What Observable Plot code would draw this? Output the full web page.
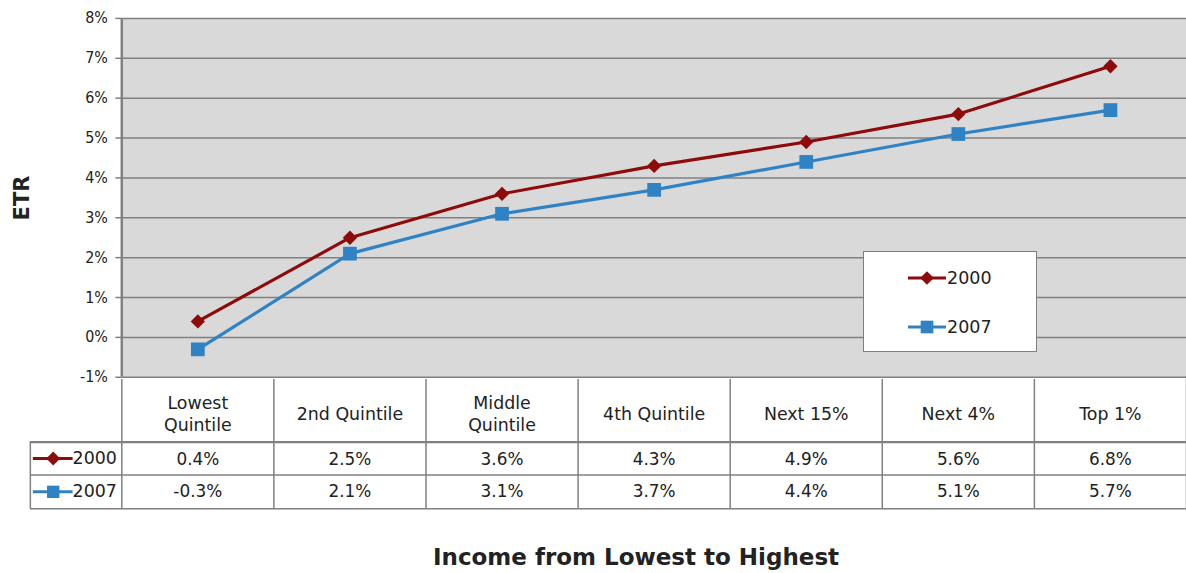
<!DOCTYPE html>
<html>
<head>
<meta charset="utf-8">
<script src="https://cdn.jsdelivr.net/npm/d3@7"></script>
<script src="https://cdn.jsdelivr.net/npm/@observablehq/plot@0.6"></script>
<style>
  body { margin: 0; background: #fff; overflow: hidden; }
  #wrap { position: relative; width: 1186px; height: 573px; overflow: hidden;
          font-family: "DejaVu Sans", sans-serif; color: #222; }
  #wrap svg { display: block; }
  #chart { position: absolute; left: 0; top: 0; }
  #table { position: absolute; left: 0; top: 379px; }
  #ylabel { position: absolute; left: 22px; top: 198px; transform: translate(-50%, -50%) rotate(-90deg);
            font-weight: bold; font-size: 21px; white-space: nowrap; }
  #xlabel { position: absolute; left: 433px; top: 544px;
            font-weight: bold; font-size: 23px; white-space: nowrap; }
  #legend { position: absolute; left: 863px; top: 251px; width: 174px; height: 101px;
            background: #fff; border: 1.5px solid #808080; box-sizing: border-box; }
  .lg { position: absolute; left: 44px; display: flex; align-items: center; font-size: 17.5px; }
  .lg svg { margin-right: 1px; }
</style>
</head>
<body>
<div id="wrap">
  <div id="chart"></div>
  <div id="table"></div>
  <div id="ylabel">ETR</div>
  <div id="xlabel">Income from Lowest to Highest</div>
  <div id="legend"></div>
</div>
<script>
// ---- data ----
const categories = ["Lowest Quintile", "2nd Quintile", "Middle Quintile", "4th Quintile", "Next 15%", "Next 4%", "Top 1%"];
const headerLabels = ["Lowest\nQuintile", "2nd Quintile", "Middle\nQuintile", "4th Quintile", "Next 15%", "Next 4%", "Top 1%"];
const years = ["2000", "2007"];
const etr2000 = [0.4, 2.5, 3.6, 4.3, 4.9, 5.6, 6.8];
const etr2007 = [-0.3, 2.1, 3.1, 3.7, 4.4, 5.1, 5.7];
const yTicks = [-1, 0, 1, 2, 3, 4, 5, 6, 7, 8];

// ---- styling / layout ----
const RED = "#8e0b0b";
const BLUE = "#2f83c5";
const GRID = "#808080";
const FONT = "'DejaVu Sans', sans-serif";
const TICKFONT = "'DejaVu Sans Condensed', 'DejaVu Sans', sans-serif";
const W = 1193, LEFT = 122;
const rowEdges = [0, 63, 96, 130];   // table row boundaries (layout, px below the plot)
const TH = 132;

const rows = [];
categories.forEach((c, i) => {
  rows.push({i, cat: c, year: "2000", v: etr2000[i]});
  rows.push({i, cat: c, year: "2007", v: etr2007[i]});
});
const xDomain = [-0.5, categories.length - 0.5];
const bounds = d3.range(categories.length + 1).map(k => k - 0.5);

const chart = Plot.plot({
  width: W, height: 380,
  marginTop: 18, marginBottom: 1, marginLeft: LEFT, marginRight: 0,
  style: {fontFamily: TICKFONT, background: "transparent", overflow: "visible", color: "#222"},
  x: {type: "linear", domain: xDomain, axis: null},
  y: {domain: [-1, 8], axis: null},
  color: {domain: years, range: [RED, BLUE]},
  marks: [
    Plot.frame({fill: "#d9d9d9", stroke: null}),
    Plot.ruleY(yTicks, {stroke: GRID, strokeWidth: 1.5}),
    Plot.ruleX([-0.5], {stroke: GRID, strokeWidth: 2.5}),
    Plot.axisY({ticks: yTicks, tickSize: 6, tickPadding: 8, tickFormat: d => d + "%",
                fontSize: 16, stroke: GRID, strokeWidth: 1.5, label: null}),
    Plot.line(rows, {x: "i", y: "v", z: "year", stroke: "year", strokeWidth: 3.2}),
    Plot.dot(rows.filter(d => d.year === "2000"), {x: "i", y: "v", symbol: "diamond2", fill: RED, stroke: null, r: 6.5}),
    Plot.dot(rows.filter(d => d.year === "2007"), {x: "i", y: "v", symbol: "square", fill: BLUE, stroke: null, r: 7.8})
  ]
});
document.getElementById("chart").append(chart);

// ---- data table below the chart ----
const mid = k => (rowEdges[k] + rowEdges[k + 1]) / 2;
const table = Plot.plot({
  width: W, height: TH,
  marginTop: 0, marginBottom: 0, marginLeft: LEFT, marginRight: 0,
  style: {fontFamily: FONT, background: "transparent", overflow: "visible", color: "#222"},
  x: {type: "linear", domain: xDomain, axis: null},
  y: {type: "linear", domain: [0, TH], range: [0, TH], axis: null},
  marks: [
    Plot.ruleX(bounds, {y1: rowEdges[0], y2: rowEdges[3], stroke: GRID, strokeWidth: 1.5}),
    Plot.ruleX([-0.5], {y1: rowEdges[1], y2: rowEdges[3], dx: -92, stroke: GRID, strokeWidth: 1.5}),
    Plot.ruleY([rowEdges[1]], {x1: -0.5, x2: 6.5, insetLeft: -92, stroke: GRID, strokeWidth: 2.5}),
    Plot.ruleY([rowEdges[2], rowEdges[3]], {x1: -0.5, x2: 6.5, insetLeft: -92, stroke: GRID, strokeWidth: 1.5}),
    Plot.text(headerLabels, {x: (d, i) => i, y: mid(0) + 2, text: d => d, fontSize: 17.5, lineHeight: 1.3, fill: "#222"}),
    Plot.text(etr2000, {x: (d, i) => i, y: mid(1) + 1, text: d => d.toFixed(1) + "%", fontSize: 17, fill: "#222"}),
    Plot.text(etr2007, {x: (d, i) => i, y: mid(2), text: d => d.toFixed(1) + "%", fontSize: 17, fill: "#222"}),
    // series keys in the table
    Plot.ruleY([mid(1)], {x1: -0.5, x2: -0.5, insetLeft: -89, insetRight: 49, stroke: RED, strokeWidth: 3}),
    Plot.dot([mid(1)], {x: -0.5, y: d => d, dx: -69, symbol: "diamond2", fill: RED, stroke: null, r: 6.3}),
    Plot.text([years[0]], {x: -0.5, y: mid(1), dx: -5, textAnchor: "end", text: d => d, fontSize: 17.5, fill: "#222"}),
    Plot.ruleY([mid(2)], {x1: -0.5, x2: -0.5, insetLeft: -89, insetRight: 49, stroke: BLUE, strokeWidth: 3}),
    Plot.dot([mid(2)], {x: -0.5, y: d => d, dx: -69, symbol: "square", fill: BLUE, stroke: null, r: 7}),
    Plot.text([years[1]], {x: -0.5, y: mid(2), dx: -5, textAnchor: "end", text: d => d, fontSize: 17.5, fill: "#222"})
  ]
});
document.getElementById("table").append(table);

// ---- legend ----
const legend = document.getElementById("legend");
const colors = {"2000": RED, "2007": BLUE};
years.forEach((y, k) => {
  const item = document.createElement("div");
  item.className = "lg";
  item.style.top = (k === 0 ? 16 : 65) + "px";
  const sym = d3.symbol(y === "2000" ? d3.symbolDiamond2 : d3.symbolSquare, y === "2000" ? 120 : 160)();
  item.innerHTML = `<svg width="38" height="20" viewBox="0 0 38 20">
      <line x1="0" x2="38" y1="10" y2="10" stroke="${colors[y]}" stroke-width="3"/>
      <path d="${sym}" transform="translate(19,10)" fill="${colors[y]}"/></svg><span>${y}</span>`;
  legend.append(item);
});
</script>
</body>
</html>
